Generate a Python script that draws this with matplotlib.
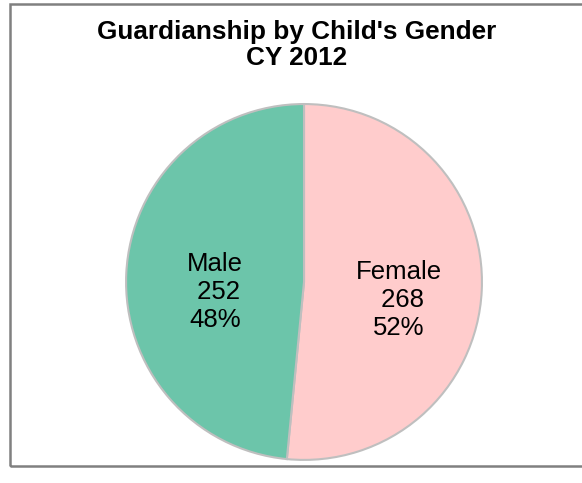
import matplotlib.pyplot as plt
import numpy as np
from matplotlib.patches import Rectangle

genders = ['Female', 'Male']
counts = [268, 252]
colors = ['#FFCCCC', '#6CC5AA']

plt.rcParams['font.family'] = ['Liberation Sans', 'DejaVu Sans']

fig = plt.figure(figsize=(5.82, 4.83), dpi=100)

# outer frame like the spreadsheet chart area
fig.patches.append(Rectangle((10 / 582, 1 - 466 / 483), 1.0, 462 / 483,
                             transform=fig.transFigure, fill=False,
                             edgecolor='#808080', linewidth=1.8))

fig.text(297 / 582, 1 - 45 / 483, "Guardianship by Child's Gender\nCY 2012",
         ha='center', va='center', fontsize=18.8, fontweight='bold',
         linespacing=1.13)

ax = fig.add_axes([0.2105, 0.0404, 0.6237, 0.7516])
total = sum(counts)


def make_label(name, n):
    return f'{name}\n {n}\n{n / total * 100:.0f}%'


wedges = ax.pie(counts, colors=colors, startangle=90, counterclock=False,
                radius=1, wedgeprops=dict(edgecolor='#BFBFBF', linewidth=1.5))[0]
ax.set_xlim(-1.02, 1.02)
ax.set_ylim(-1.02, 1.02)
ax.set_aspect('equal')
ax.axis('off')

# data labels inside each slice (nudged to where the original puts them)
nudge = {'Female': (0.015, -0.075), 'Male': (0.02, -0.08)}
for w, name, n in zip(wedges, genders, counts):
    ang = np.deg2rad((w.theta1 + w.theta2) / 2)
    dx, dy = nudge[name]
    x, y = 0.52 * np.cos(ang) + dx, 0.52 * np.sin(ang) + dy
    ax.text(x, y, make_label(name, n), ha='center', va='center', fontsize=18.5,
            multialignment='center', linespacing=1.22)

fig.savefig('out.png', dpi=100)
